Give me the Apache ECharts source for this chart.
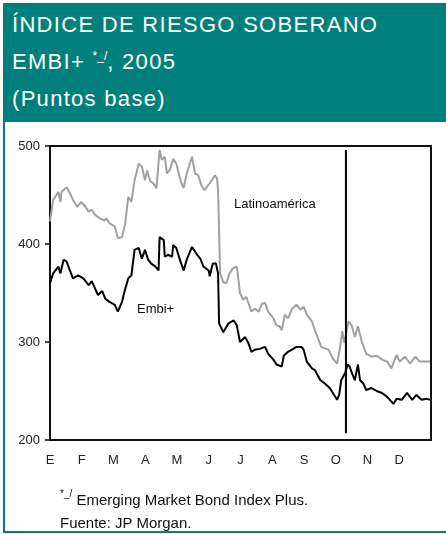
<!DOCTYPE html>
<html>
<head>
<meta charset="utf-8">
<script src="https://cdn.jsdelivr.net/npm/echarts@6/dist/echarts.min.js"></script>
<style>
  html, body { margin: 0; padding: 0; background: #fff; }
  body { width: 446px; height: 534px; position: relative; overflow: hidden; font-family: "Liberation Sans", Arial, sans-serif; }
  #frame { position: absolute; left: 3px; top: 3px; width: 443px; height: 530px; border: 2px solid #00807c; border-right: none; box-sizing: border-box; }
  #header { position: absolute; left: 3px; top: 3px; width: 443px; height: 119px; background: #00807c; color: #fff; font-size: 22px; letter-spacing: 1.3px; }
  #header div { position: absolute; left: 9px; white-space: nowrap; }
  #chart { position: absolute; left: 0; top: 0; width: 446px; height: 534px; }
  .note { position: absolute; left: 60px; font-size: 15px; color: #111; white-space: nowrap; }
  .sup { font-size: 10px; position: relative; top: -8px; letter-spacing: 0; }
</style>
</head>
<body>
<div id="frame"></div>
<div id="header">
  <div style="top:9px">ÍNDICE DE RIESGO SOBERANO</div>
  <div style="top:46px">EMBI+ <span class="sup" style="font-size:12px;top:-9px">*_/</span>, 2005</div>
  <div style="top:83px">(Puntos base)</div>
</div>
<div id="chart"></div>
<div class="note" style="top:491px"><span class="sup">*_/</span> Emerging Market Bond Index Plus.</div>
<div class="note" style="top:514px">Fuente: JP Morgan.</div>
<script>
// meses (inicio de cada mes)
const months = ["E", "F", "M", "A", "M", "J", "J", "A", "S", "O", "N", "D"];

// Latinoamérica: día del año y puntos base
const latamDays = [0, 3, 8, 10, 11, 16, 19, 22, 26, 30, 34, 37, 40, 43, 48, 52, 54, 57, 62, 65, 69, 72, 75, 78, 81, 85, 88, 91, 93, 96, 99, 102, 105, 107, 110, 112, 115, 118, 121, 125, 128, 131, 136, 139, 142, 145, 148, 153, 158, 160, 161, 163, 166, 169, 172, 175, 179, 182, 185, 188, 193, 196, 200, 203, 206, 209, 214, 217, 220, 222, 225, 228, 232, 236, 240, 243, 246, 251, 254, 260, 267, 271, 275, 278, 280, 282, 286, 289, 292, 295, 299, 303, 308, 313, 318, 323, 327, 332, 335, 340, 345, 350, 354, 359, 364];
const latamValues = [423, 445, 453, 443, 453, 458, 452, 445, 438, 443, 438, 433, 435, 430, 426, 424, 426, 421, 418, 406, 407, 421, 448, 443, 465, 482, 479, 465, 475, 464, 462, 457, 496, 486, 489, 472, 476, 487, 482, 465, 457, 472, 489, 472, 470, 460, 455, 462, 470, 467, 455, 370, 361, 360, 370, 375, 377, 350, 343, 346, 331, 334, 331, 339, 340, 331, 324, 317, 316, 312, 328, 324, 334, 338, 333, 336, 328, 321, 311, 295, 292, 283, 278, 295, 311, 299, 321, 317, 305, 316, 299, 288, 285, 286, 282, 280, 273, 287, 280, 285, 278, 285, 280, 280, 280];

// Embi+
const embiDays = [0, 3, 8, 10, 13, 16, 19, 22, 27, 32, 37, 40, 43, 46, 50, 53, 57, 62, 65, 69, 71, 75, 78, 81, 85, 88, 91, 94, 97, 101, 104, 105, 109, 110, 113, 117, 118, 121, 125, 128, 131, 136, 141, 144, 147, 152, 153, 156, 159, 161, 162, 166, 171, 176, 179, 182, 187, 190, 193, 196, 201, 206, 209, 214, 217, 222, 224, 228, 233, 236, 241, 243, 246, 251, 254, 259, 263, 268, 271, 275, 277, 279, 281, 283, 285, 287, 289, 292, 295, 297, 300, 303, 308, 313, 318, 323, 329, 332, 337, 342, 347, 351, 356, 361, 364];
const embiValues = [360, 370, 377, 370, 384, 382, 373, 365, 368, 365, 358, 362, 355, 348, 352, 344, 341, 338, 331, 341, 350, 365, 368, 394, 396, 385, 394, 384, 380, 377, 373, 407, 404, 387, 389, 387, 399, 396, 382, 373, 384, 397, 389, 385, 377, 373, 367, 380, 380, 370, 319, 310, 319, 322, 317, 300, 305, 299, 290, 292, 293, 295, 288, 282, 277, 275, 286, 290, 293, 295, 295, 292, 280, 273, 271, 261, 258, 253, 248, 241, 246, 261, 265, 269, 277, 275, 269, 261, 277, 261, 258, 251, 253, 250, 248, 244, 237, 242, 241, 248, 241, 246, 241, 242, 241];

// línea vertical de referencia (octubre)
const markDays = [283.5, 283.5];
const markValues = [207, 496];

const yTicks = [200, 300, 400, 500];

const zip = (xs, ys) => xs.map((x, i) => [x, ys[i]]);
const monthLen = 365 / 12;

const chart = echarts.init(document.getElementById("chart"));
chart.setOption({
  animation: false,
  textStyle: { fontFamily: "Liberation Sans, Arial, sans-serif" },
  grid: { left: 50, right: 15, top: 146, bottom: 94, show: true, borderColor: "#111", borderWidth: 2 },
  xAxis: {
    type: "value",
    min: 0,
    max: 365,
    interval: monthLen,
    axisLine: { show: true, lineStyle: { color: "#111", width: 2 } },
    axisTick: { show: false },
    splitLine: { show: false },
    axisLabel: {
      color: "#222",
      fontSize: 13,
      margin: 14,
      formatter: (v) => months[Math.round(v / monthLen)] || "",
    },
  },
  yAxis: {
    type: "value",
    min: yTicks[0],
    max: yTicks[yTicks.length - 1],
    interval: 100,
    axisLine: { show: true, lineStyle: { color: "#111", width: 2 } },
    axisTick: { show: true, length: 5, lineStyle: { color: "#111", width: 1.5 } },
    splitLine: { show: false },
    axisLabel: { color: "#222", fontSize: 13, margin: 10 },
  },
  graphic: [
    { type: "text", left: 234, top: 198, style: { text: "Latinoamérica", fontSize: 13, fill: "#111", fontFamily: "Liberation Sans, Arial" } },
    { type: "text", left: 137, top: 303, style: { text: "Embi+", fontSize: 13, fill: "#111", fontFamily: "Liberation Sans, Arial" } },
  ],
  series: [
    {
      name: "Latinoamérica",
      type: "line",
      data: zip(latamDays, latamValues),
      showSymbol: false,
      lineStyle: { color: "#a0a0a0", width: 2 },
      z: 2,
    },
    {
      name: "Embi+",
      type: "line",
      data: zip(embiDays, embiValues),
      showSymbol: false,
      lineStyle: { color: "#000", width: 2 },
      z: 3,
    },
    {
      name: "marca",
      type: "line",
      data: zip(markDays, markValues),
      showSymbol: false,
      lineStyle: { color: "#000", width: 2 },
      z: 4,
    },
  ],
});
</script>
</body>
</html>
